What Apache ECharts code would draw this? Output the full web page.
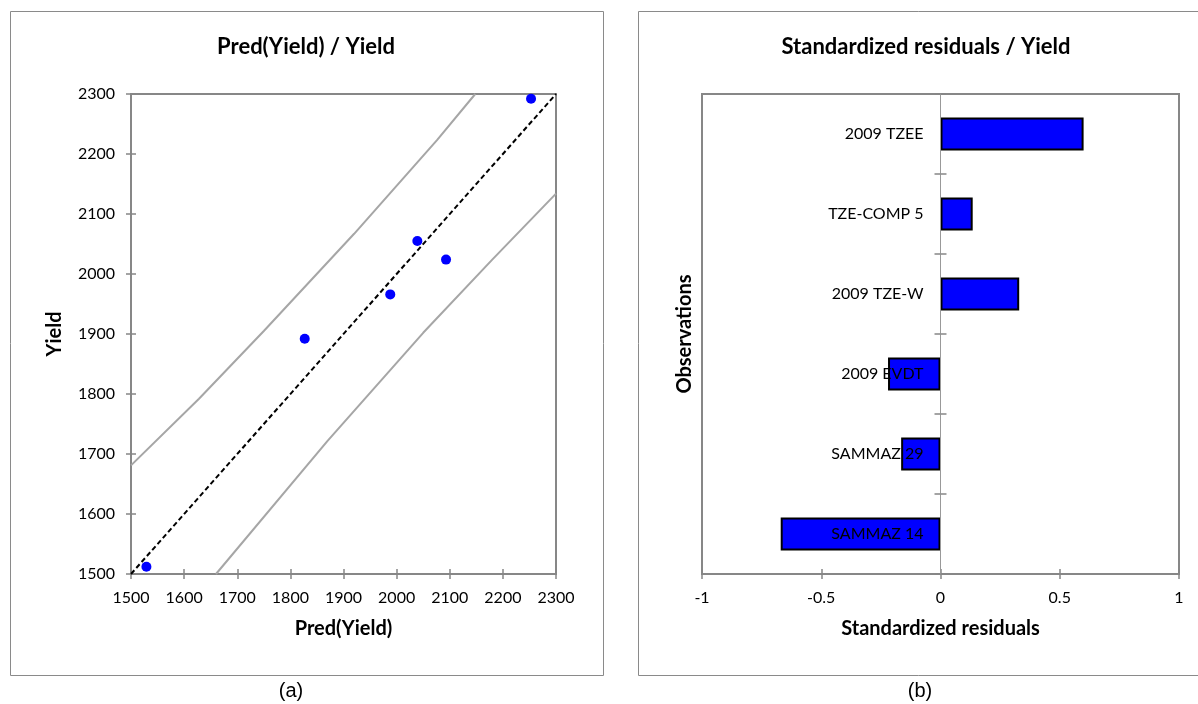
<!DOCTYPE html>
<html>
<head>
<meta charset="utf-8">
<script src="https://cdn.jsdelivr.net/npm/echarts@6/dist/echarts.min.js"></script>
<style>
html,body{margin:0;padding:0;background:#fff;}
#chartmain{width:1198px;height:704px;}
</style>
</head>
<body>
<div id="chartmain"></div>
<script>
// (a) Pred(Yield) / Yield
var predVals = [1529, 1827, 1988, 2039, 2093, 2253];
var yieldVals = [1512, 1892, 1966, 2055, 2024, 2292];
// confidence band
var upperX = [1500, 1628, 1750, 1920, 2076, 2148];
var upperY = [1681, 1792, 1905, 2067, 2223, 2300];
var lowerX = [1660, 1870, 2050, 2180, 2300];
var lowerY = [1500, 1722, 1902, 2024, 2134];
var diagX = [1500, 2300];
var diagY = [1500, 2300];

// (b) Standardized residuals / Yield (top to bottom)
var observations = ['2009 TZEE', 'TZE-COMP 5', '2009 TZE-W', '2009 EVDT', 'SAMMAZ 29', 'SAMMAZ 14'];
var residuals = [0.6, 0.135, 0.33, -0.22, -0.165, -0.67];

var font = 'Lato, "Open Sans", sans-serif';
var grey = '#878787';
var zeroOffset = -238.5; //类别轴移到0的位置

function pairs(xs, ys){
	var out = [];
	for(var i = 0; i < xs.length; i++){
		out.push([xs[i], ys[i]]);
	}
	return out;
}

function valueAxis(grid, min, max, step, extra){
	var ax = {
		type:'value', gridIndex:grid, min:min, max:max, interval:step,
		axisLine:{show:true, onZero:false, lineStyle:{color:grey, width:2}},
		axisTick:{show:true, length:5, lineStyle:{color:grey, width:1.5}},
		axisLabel:{color:'#000', fontFamily:font, fontSize:16, margin:16, formatter:function(v){ return String(v); }},
		splitLine:{show:false}
	};
	for(var k in extra){ ax[k] = extra[k]; }
	return ax;
}
//内侧刻度，用来做出十字刻度
function innerTicks(grid, type, min, max, step, pos){
	return {
		type:type, gridIndex:grid, min:min, max:max, interval:step, position:pos,
		axisLine:{show:false, onZero:false},
		axisTick:{show:true, inside:true, length:5, lineStyle:{color:grey, width:1.5}},
		axisLabel:{show:false},
		splitLine:{show:false}
	};
}

var nameStyle = {color:'#000', fontFamily:font, fontSize:20, fontWeight:'bold'};

var myChart = echarts.init(document.getElementById('chartmain'));
myChart.setOption({
	animation:false,
	backgroundColor:'#fff',
	grid:[
		{left:131, top:94, width:425, height:480, show:true, borderColor:grey, borderWidth:2},
		{left:702, top:94, width:477, height:480, show:true, borderColor:grey, borderWidth:2}
	],
	xAxis:[
		valueAxis(0, 1500, 2300, 100, {position:'bottom', name:'Pred(Yield)', nameLocation:'middle', nameGap:45, nameTextStyle:nameStyle}),
		innerTicks(0, 'value', 1500, 2300, 100, 'bottom'),
		valueAxis(1, -1, 1, 0.5, {position:'bottom', name:'Standardized residuals', nameLocation:'middle', nameGap:45, nameTextStyle:nameStyle}),
		innerTicks(1, 'value', -1, 1, 0.5, 'bottom')
	],
	yAxis:[
		valueAxis(0, 1500, 2300, 100, {position:'left', name:'Yield', nameLocation:'middle', nameGap:66, nameTextStyle:nameStyle}),
		innerTicks(0, 'value', 1500, 2300, 100, 'left'),
		{
			type:'category', gridIndex:1, position:'left', offset:zeroOffset, data:observations, inverse:true, z:3,
			axisLine:{show:true, onZero:false, lineStyle:{color:'#999', width:1}},
			axisTick:{show:true, length:6, lineStyle:{color:grey, width:1.5}},
			axisLabel:{color:'#000', fontFamily:font, fontSize:16, margin:17}
		},
		{
			type:'category', gridIndex:1, position:'left', offset:zeroOffset, data:observations, inverse:true,
			axisLine:{show:false, onZero:false},
			axisTick:{show:true, inside:true, length:6, lineStyle:{color:grey, width:1.5}},
			axisLabel:{show:false}
		}
	],
	graphic:[
		{type:'rect', shape:{x:10.5, y:11.5, width:593, height:664}, style:{fill:null, stroke:'#8a8a8a', lineWidth:1}, z:-1},
		{type:'rect', shape:{x:638.5, y:11.5, width:580, height:664}, style:{fill:null, stroke:'#8a8a8a', lineWidth:1}, z:-1},
		{type:'text', x:306, y:47, style:{text:'Pred(Yield) / Yield', fill:'#000', font:'bold 22px ' + font, textAlign:'center', textVerticalAlign:'middle'}},
		{type:'text', x:926, y:47, style:{text:'Standardized residuals / Yield', fill:'#000', font:'bold 22px ' + font, textAlign:'center', textVerticalAlign:'middle'}},
		{type:'text', x:685, y:334, rotation:Math.PI / 2, style:{text:'Observations', fill:'#000', font:'bold 20px ' + font, textAlign:'center', textVerticalAlign:'middle'}},
		{type:'text', x:291, y:691, style:{text:'(a)', fill:'#000', font:'20px "Liberation Sans", Arial, sans-serif', textAlign:'center', textVerticalAlign:'middle'}},
		{type:'text', x:920, y:691, style:{text:'(b)', fill:'#000', font:'20px "Liberation Sans", Arial, sans-serif', textAlign:'center', textVerticalAlign:'middle'}}
	],
	series:[
		{
			name:'upper', type:'line', xAxisIndex:0, yAxisIndex:0, data:pairs(upperX, upperY),
			showSymbol:false, silent:true,
			lineStyle:{color:'#a6a6a6', width:2}
		},
		{
			name:'lower', type:'line', xAxisIndex:0, yAxisIndex:0, data:pairs(lowerX, lowerY),
			showSymbol:false, silent:true,
			lineStyle:{color:'#a6a6a6', width:2}
		},
		{
			name:'diag', type:'line', xAxisIndex:0, yAxisIndex:0, data:pairs(diagX, diagY),
			showSymbol:false, silent:true,
			lineStyle:{color:'#000', width:2, type:[5, 3]}
		},
		{
			name:'Yield', type:'scatter', xAxisIndex:0, yAxisIndex:0, data:pairs(predVals, yieldVals),
			symbolSize:10, itemStyle:{color:'#0000ff', opacity:1}, z:4
		},
		{
			name:'Standardized residuals', type:'bar', xAxisIndex:2, yAxisIndex:2, data:residuals,
			barWidth:33, itemStyle:{color:'#0000ff', borderColor:'#000', borderWidth:2}
		}
	]
});
</script>
</body>
</html>
